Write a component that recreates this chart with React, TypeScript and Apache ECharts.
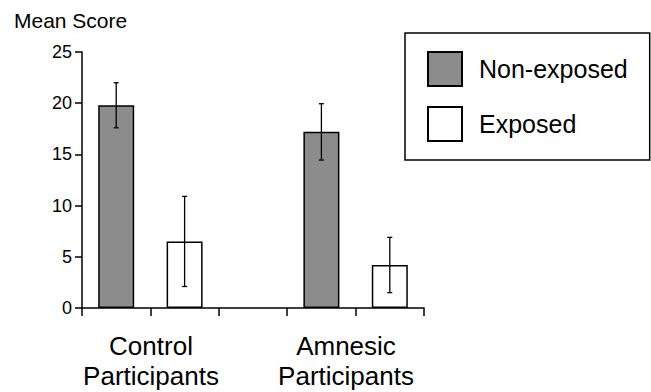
import React, { useEffect, useRef } from "react";
import * as echarts from "echarts";

const groupLabels = ["Control\nParticipants", "Amnesic\nParticipants"];
const seriesNames = ["Non-exposed", "Exposed"];
const nonExposedMeans = [19.8, 17.2];
const nonExposedErr = [2.2, 2.75];
const exposedMeans = [6.5, 4.2];
const exposedErr = [4.4, 2.7];
const yTicks = [0, 5, 10, 15, 20, 25];
const yAxisTitle = "Mean Score";

// slot layout on the category axis: [ctrl-nonexp, ctrl-exp, gap, amn-nonexp, amn-exp]
const slots = ["c-n", "c-e", "gap", "a-n", "a-e"];

export default function App() {
  const ref = useRef<HTMLDivElement>(null);
  useEffect(() => {
    if (!ref.current) return;
    const chart = echarts.init(ref.current, null, { renderer: "svg" });
    const nonExpData: any[] = ["-", "-", "-", "-", "-"];
    const expData: any[] = ["-", "-", "-", "-", "-"];
    nonExpData[0] = nonExposedMeans[0];
    nonExpData[3] = nonExposedMeans[1];
    expData[1] = exposedMeans[0];
    expData[4] = exposedMeans[1];
    const errData = [
      [0, nonExposedMeans[0] - nonExposedErr[0], nonExposedMeans[0] + nonExposedErr[0]],
      [1, exposedMeans[0] - exposedErr[0], exposedMeans[0] + exposedErr[0]],
      [3, nonExposedMeans[1] - nonExposedErr[1], nonExposedMeans[1] + nonExposedErr[1]],
      [4, exposedMeans[1] - exposedErr[1], exposedMeans[1] + exposedErr[1]],
    ];
    const font = "'Liberation Sans', Arial, Helvetica, sans-serif";
    chart.setOption({
      animation: false,
      backgroundColor: "#fff",
      textStyle: { fontFamily: font, color: "#000" },
      grid: { left: 82, right: 227, top: 52, bottom: 84 },
      legend: {
        data: seriesNames,
        orient: "vertical",
        left: 405,
        top: 33,
        padding: [18, 22, 18, 22],
        itemWidth: 34,
        itemHeight: 34,
        itemGap: 19,
        icon: "rect",
        borderColor: "#000",
        borderWidth: 1.5,
        textStyle: { fontSize: 25, color: "#000", fontFamily: font, padding: [0, 0, 0, 12] },
        selectedMode: false,
      },
      xAxis: {
        type: "category",
        data: slots,
        boundaryGap: true,
        axisLine: { show: true, lineStyle: { color: "#000", width: 1.5 } },
        axisTick: { show: true, length: 8, lineStyle: { color: "#000", width: 1.5 } },
        axisLabel: { show: false },
      },
      yAxis: {
        type: "value",
        min: yTicks[0],
        max: yTicks[yTicks.length - 1],
        interval: yTicks[1] - yTicks[0],
        splitLine: { show: false },
        axisLine: { show: true, lineStyle: { color: "#000", width: 1.5 } },
        axisTick: { show: true, length: 7, lineStyle: { color: "#000", width: 1.5 } },
        axisLabel: { fontSize: 18, color: "#000", margin: 10, fontFamily: font },
      },
      series: [
        {
          name: seriesNames[0],
          type: "bar",
          data: nonExpData,
          barWidth: 36,
          barGap: "-100%",
          itemStyle: { color: "#8c8c8c", borderColor: "#000", borderWidth: 1.5 },
        },
        {
          name: seriesNames[1],
          type: "bar",
          data: expData,
          barWidth: 36,
          barGap: "-100%",
          itemStyle: { color: "#fff", borderColor: "#000", borderWidth: 1.5 },
        },
        {
          type: "custom",
          z: 10,
          data: errData,
          encode: { x: 0, y: [1, 2] },
          renderItem: (params: any, api: any) => {
            const x = api.value(0);
            const lo = api.coord([x, api.value(1)]);
            const hi = api.coord([x, api.value(2)]);
            const cap = 2.5;
            const style = { stroke: "#000", lineWidth: 1.3 };
            return {
              type: "group",
              children: [
                { type: "line", shape: { x1: lo[0], y1: lo[1], x2: hi[0], y2: hi[1] }, style },
                { type: "line", shape: { x1: hi[0] - cap, y1: hi[1], x2: hi[0] + cap, y2: hi[1] }, style },
                { type: "line", shape: { x1: lo[0] - cap, y1: lo[1], x2: lo[0] + cap, y2: lo[1] }, style },
              ],
            };
          },
        },
      ],
      graphic: [
        {
          type: "text",
          x: 14,
          y: 20,
          style: {
            text: yAxisTitle,
            fontSize: 21,
            fontFamily: font,
            fill: "#000",
            align: "left",
            verticalAlign: "middle",
          },
        },
        {
          type: "text",
          x: 151,
          y: 361,
          style: {
            text: groupLabels[0],
            fontSize: 26,
            fontFamily: font,
            fill: "#000",
            align: "center",
            verticalAlign: "middle",
            lineHeight: 30,
          },
        },
        {
          type: "text",
          x: 346,
          y: 361,
          style: {
            text: groupLabels[1],
            fontSize: 26,
            fontFamily: font,
            fill: "#000",
            align: "center",
            verticalAlign: "middle",
            lineHeight: 30,
          },
        },
      ],
    });
    return () => chart.dispose();
  }, []);
  return (
    <div
      ref={ref}
      style={{ position: "fixed", left: 0, top: 0, width: 651, height: 392 }}
    />
  );
}
